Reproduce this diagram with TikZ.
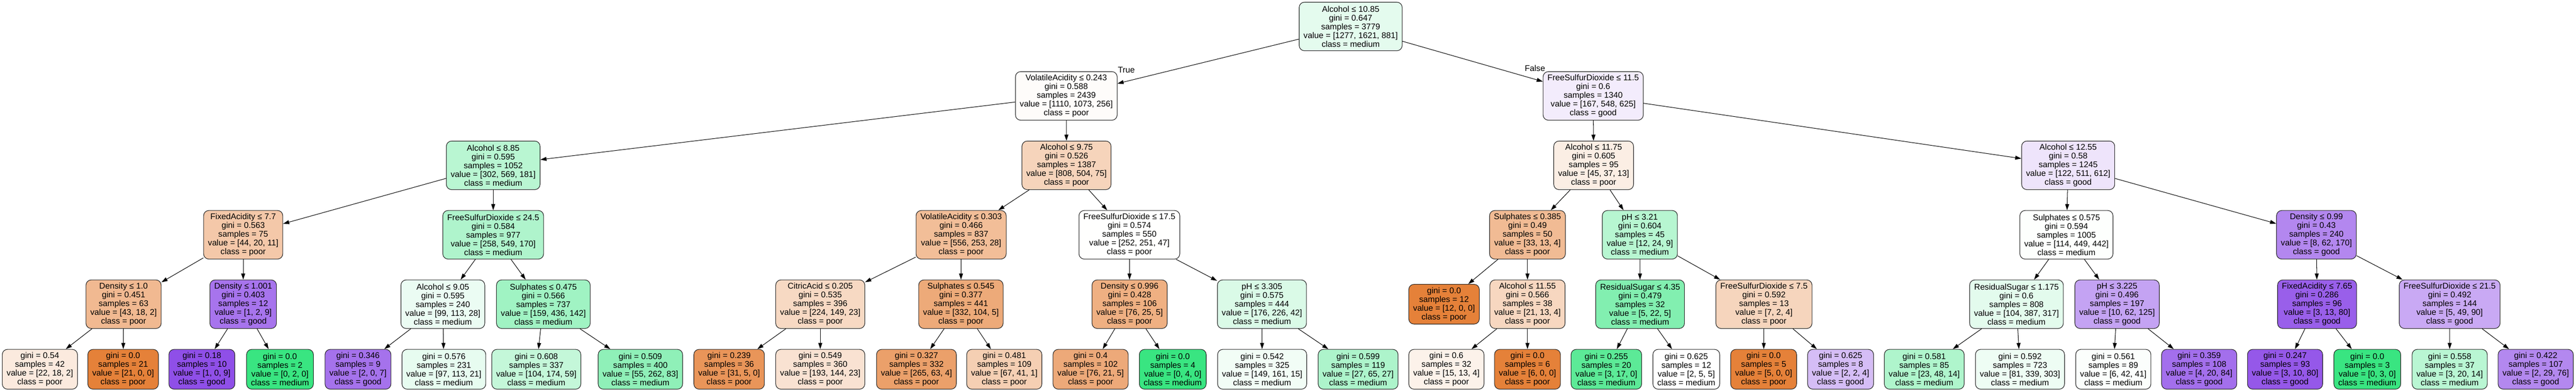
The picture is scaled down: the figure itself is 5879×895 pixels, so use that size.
\documentclass[tikz,border=0pt]{standalone}
\usepackage{fontspec}
\setmainfont{Liberation Sans}
\usetikzlibrary{arrows.meta}
\definecolor{poorc}{RGB}{229,129,57}
\definecolor{medc}{RGB}{57,229,129}
\definecolor{goodc}{RGB}{129,57,229}
\newcommand{\dtsplit}[5]{#1\\gini = #2\\samples = #3\\value = [#4]\\class = #5}
\newcommand{\dtleaf}[4]{gini = #1\\samples = #2\\value = [#3]\\class = #4}
\begin{document}
\begin{tikzpicture}[x=1pt,y=-1pt,
  base/.style={draw=black!85, line width=1.3pt, rounded corners=12pt, align=center,
    inner xsep=10pt, inner ysep=2pt, font=\fontsize{19}{20}\selectfont},
  inode/.style={base, minimum height=111pt},
  leaf/.style={base, minimum height=91pt},
  arr/.style={-{Triangle[length=14pt,width=9pt]}, line width=1.2pt},
  lbl/.style={font=\fontsize{19}{20}\selectfont, inner sep=0pt}]
\useasboundingbox (0,0) rectangle (5879,895);
% level 0
\node[inode, fill=medc!13.7!white] (n0) at (3082.5,60.5) {\dtsplit{Alcohol ≤ 10.85}{0.647}{3779}{1277, 1621, 881}{medium}};
% level 1
\node[inode, fill=poorc!2.7!white] (n1) at (2433.5,219.2) {\dtsplit{VolatileAcidity ≤ 0.243}{0.588}{2439}{1110, 1073, 256}{poor}};
\node[inode, fill=goodc!9.7!white] (n16) at (3636,219.2) {\dtsplit{FreeSulfurDioxide ≤ 11.5}{0.6}{1340}{167, 548, 625}{good}};
% level 2
\node[inode, fill=medc!35.6!white] (n2) at (1125.6,377.9) {\dtsplit{Alcohol ≤ 8.85}{0.595}{1052}{302, 569, 181}{medium}};
\node[inode, fill=poorc!34.4!white] (n9) at (2434,377.9) {\dtsplit{Alcohol ≤ 9.75}{0.526}{1387}{808, 504, 75}{poor}};
\node[inode, fill=poorc!13.8!white] (n17) at (3637,377.9) {\dtsplit{Alcohol ≤ 11.75}{0.605}{95}{45, 37, 13}{poor}};
\node[inode, fill=goodc!13.8!white] (n23) at (4720,377.9) {\dtsplit{Alcohol ≤ 12.55}{0.58}{1245}{122, 511, 612}{good}};
% level 3
\node[inode, fill=poorc!43.6!white] (n3) at (555,536.6) {\dtsplit{FixedAcidity ≤ 7.7}{0.563}{75}{44, 20, 11}{poor}};
\node[inode, fill=medc!40.5!white] (n6) at (1125.6,536.6) {\dtsplit{FreeSulfurDioxide ≤ 24.5}{0.584}{977}{258, 549, 170}{medium}};
\node[inode, fill=poorc!51.9!white] (n10) at (2193.5,536.6) {\dtsplit{VolatileAcidity ≤ 0.303}{0.466}{837}{556, 253, 28}{poor}};
\node[inode, fill=poorc!0.3!white] (n13) at (2577.5,536.6) {\dtsplit{FreeSulfurDioxide ≤ 17.5}{0.574}{550}{252, 251, 47}{poor}};
\node[inode, fill=poorc!54.1!white] (n18) at (3486,536.6) {\dtsplit{Sulphates ≤ 0.385}{0.49}{50}{33, 13, 4}{poor}};
\node[inode, fill=medc!36.4!white] (n20) at (3742.5,536.6) {\dtsplit{pH ≤ 3.21}{0.604}{45}{12, 24, 9}{medium}};
\node[inode, fill=medc!1.2!white] (n24) at (4716,536.6) {\dtsplit{Sulphates ≤ 0.575}{0.594}{1005}{114, 449, 442}{medium}};
\node[inode, fill=goodc!60.7!white] (n27) at (5286.5,536.6) {\dtsplit{Density ≤ 0.99}{0.43}{240}{8, 62, 170}{good}};
% level 4
\node[inode, fill=poorc!55.6!white] (n4) at (282,695.3) {\dtsplit{Density ≤ 1.0}{0.451}{63}{43, 18, 2}{poor}};
\node[inode, fill=goodc!70!white] (n5) at (555,695.3) {\dtsplit{Density ≤ 1.001}{0.403}{12}{1, 2, 9}{good}};
\node[inode, fill=medc!9.9!white] (n7) at (1010.7,695.3) {\dtsplit{Alcohol ≤ 9.05}{0.595}{240}{99, 113, 28}{medium}};
\node[inode, fill=medc!47.9!white] (n8) at (1240,695.3) {\dtsplit{Sulphates ≤ 0.475}{0.566}{737}{159, 436, 142}{medium}};
\node[inode, fill=poorc!30.4!white] (n11) at (1872,695.3) {\dtsplit{CitricAcid ≤ 0.205}{0.535}{396}{224, 149, 23}{poor}};
\node[inode, fill=poorc!67.7!white] (n12) at (2193,695.3) {\dtsplit{Sulphates ≤ 0.545}{0.377}{441}{332, 104, 5}{poor}};
\node[inode, fill=poorc!63!white] (n14) at (2578,695.3) {\dtsplit{Density ≤ 0.996}{0.428}{106}{76, 25, 5}{poor}};
\node[inode, fill=medc!18.7!white] (n15) at (2880,695.3) {\dtsplit{pH ≤ 3.305}{0.575}{444}{176, 226, 42}{medium}};
\node[leaf, fill=poorc] (l18a) at (3295.6,695.3) {\dtleaf{0.0}{12}{12, 0, 0}{poor}};
\node[inode, fill=poorc!32!white] (n19) at (3486,695.3) {\dtsplit{Alcohol ≤ 11.55}{0.566}{38}{21, 13, 4}{poor}};
\node[inode, fill=medc!63!white] (n21) at (3743,695.3) {\dtsplit{ResidualSugar ≤ 4.35}{0.479}{32}{5, 22, 5}{medium}};
\node[inode, fill=poorc!33.3!white] (n22) at (4025.7,695.3) {\dtsplit{FreeSulfurDioxide ≤ 7.5}{0.592}{13}{7, 2, 4}{poor}};
\node[inode, fill=medc!14.3!white] (n25) at (4602,695.3) {\dtsplit{ResidualSugar ≤ 1.175}{0.6}{808}{104, 387, 317}{medium}};
\node[inode, fill=goodc!46.7!white] (n26) at (4831.6,695.3) {\dtsplit{pH ≤ 3.225}{0.496}{197}{10, 62, 125}{good}};
\node[inode, fill=goodc!80.7!white] (n28) at (5288,695.3) {\dtsplit{FixedAcidity ≤ 7.65}{0.286}{96}{3, 13, 80}{good}};
\node[inode, fill=goodc!43.2!white] (n29) at (5590.6,695.3) {\dtsplit{FreeSulfurDioxide ≤ 21.5}{0.492}{144}{5, 49, 90}{good}};
% level 5 leaves
\node[leaf, fill=poorc!16.7!white] (l4a) at (91,844) {\dtleaf{0.54}{42}{22, 18, 2}{poor}};
\node[leaf, fill=poorc] (l4b) at (281,844) {\dtleaf{0.0}{21}{21, 0, 0}{poor}};
\node[leaf, fill=goodc!88.9!white] (l5a) at (460.7,844) {\dtleaf{0.18}{10}{1, 0, 9}{good}};
\node[leaf, fill=medc] (l5b) at (639,844) {\dtleaf{0.0}{2}{0, 2, 0}{medium}};
\node[leaf, fill=goodc!71.4!white] (l7a) at (817,844) {\dtleaf{0.346}{9}{2, 0, 7}{good}};
\node[leaf, fill=medc!11.9!white] (l7b) at (1013,844) {\dtleaf{0.576}{231}{97, 113, 21}{medium}};
\node[leaf, fill=medc!30!white] (l8a) at (1224,844) {\dtleaf{0.608}{337}{104, 174, 59}{medium}};
\node[leaf, fill=medc!56.5!white] (l8b) at (1461.5,844) {\dtleaf{0.509}{400}{55, 262, 83}{medium}};
\node[leaf, fill=poorc!83.9!white] (l11a) at (1664,844) {\dtleaf{0.239}{36}{31, 5, 0}{poor}};
\node[leaf, fill=poorc!22.7!white] (l11b) at (1872,844) {\dtleaf{0.549}{360}{193, 144, 23}{poor}};
\node[leaf, fill=poorc!75.1!white] (l12a) at (2091.5,844) {\dtleaf{0.327}{332}{265, 63, 4}{poor}};
\node[leaf, fill=poorc!38.2!white] (l12b) at (2292,844) {\dtleaf{0.481}{109}{67, 41, 1}{poor}};
\node[leaf, fill=poorc!67.9!white] (l14a) at (2489,844) {\dtleaf{0.4}{102}{76, 21, 5}{poor}};
\node[leaf, fill=medc] (l14b) at (2676.5,844) {\dtleaf{0.0}{4}{0, 4, 0}{medium}};
\node[leaf, fill=medc!6.8!white] (l15a) at (2880.5,844) {\dtleaf{0.542}{325}{149, 161, 15}{medium}};
\node[leaf, fill=medc!41.3!white] (l15b) at (3099.5,844) {\dtleaf{0.599}{119}{27, 65, 27}{medium}};
\node[leaf, fill=poorc!10.5!white] (l19a) at (3301,844) {\dtleaf{0.6}{32}{15, 13, 4}{poor}};
\node[leaf, fill=poorc] (l19b) at (3486,844) {\dtleaf{0.0}{6}{6, 0, 0}{poor}};
\node[leaf, fill=medc!82.4!white] (l21a) at (3666,844) {\dtleaf{0.255}{20}{3, 17, 0}{medium}};
\node[leaf, fill=white] (l21b) at (3848.5,844) {\dtleaf{0.625}{12}{2, 5, 5}{medium}};
\node[leaf, fill=poorc] (l22a) at (4025,844) {\dtleaf{0.0}{5}{5, 0, 0}{poor}};
\node[leaf, fill=goodc!33.3!white] (l22b) at (4200.6,844) {\dtleaf{0.625}{8}{2, 2, 4}{good}};
\node[leaf, fill=medc!40.3!white] (l25a) at (4391.5,844) {\dtleaf{0.581}{85}{23, 48, 14}{medium}};
\node[leaf, fill=medc!8.6!white] (l25b) at (4610,844) {\dtleaf{0.592}{723}{81, 339, 303}{medium}};
\node[leaf, fill=medc!2.1!white] (l26a) at (4823,844) {\dtleaf{0.561}{89}{6, 42, 41}{medium}};
\node[leaf, fill=goodc!72.7!white] (l26b) at (5019,844) {\dtleaf{0.359}{108}{4, 20, 84}{good}};
\node[leaf, fill=goodc!84.3!white] (l28a) at (5215,844) {\dtleaf{0.247}{93}{3, 10, 80}{good}};
\node[leaf, fill=medc] (l28b) at (5402.6,844) {\dtleaf{0.0}{3}{0, 3, 0}{medium}};
\node[leaf, fill=medc!35.3!white] (l29a) at (5590.7,844) {\dtleaf{0.558}{37}{3, 20, 14}{medium}};
\node[leaf, fill=goodc!60.3!white] (l29b) at (5787,844) {\dtleaf{0.422}{107}{2, 29, 76}{good}};
% labels
\node[lbl] (tlab) at (2570.5,160.5) {True};
\node[lbl] (flab) at (3503,155.5) {False};
% edges
\draw[arr] (n0) -- (n1);
\draw[arr] (n0) -- (n16);
\draw[arr] (n1) -- (n2);
\draw[arr] (n1) -- (n9);
\draw[arr] (n16) -- (n17);
\draw[arr] (n16) -- (n23);
\draw[arr] (n2) -- (n3);
\draw[arr] (n2) -- (n6);
\draw[arr] (n9) -- (n10);
\draw[arr] (n9) -- (n13);
\draw[arr] (n17) -- (n18);
\draw[arr] (n17) -- (n20);
\draw[arr] (n23) -- (n24);
\draw[arr] (n23) -- (n27);
\draw[arr] (n3) -- (n4);
\draw[arr] (n3) -- (n5);
\draw[arr] (n6) -- (n7);
\draw[arr] (n6) -- (n8);
\draw[arr] (n10) -- (n11);
\draw[arr] (n10) -- (n12);
\draw[arr] (n13) -- (n14);
\draw[arr] (n13) -- (n15);
\draw[arr] (n18) -- (l18a);
\draw[arr] (n18) -- (n19);
\draw[arr] (n20) -- (n21);
\draw[arr] (n20) -- (n22);
\draw[arr] (n24) -- (n25);
\draw[arr] (n24) -- (n26);
\draw[arr] (n27) -- (n28);
\draw[arr] (n27) -- (n29);
\draw[arr] (n4) -- (l4a);
\draw[arr] (n4) -- (l4b);
\draw[arr] (n5) -- (l5a);
\draw[arr] (n5) -- (l5b);
\draw[arr] (n7) -- (l7a);
\draw[arr] (n7) -- (l7b);
\draw[arr] (n8) -- (l8a);
\draw[arr] (n8) -- (l8b);
\draw[arr] (n11) -- (l11a);
\draw[arr] (n11) -- (l11b);
\draw[arr] (n12) -- (l12a);
\draw[arr] (n12) -- (l12b);
\draw[arr] (n14) -- (l14a);
\draw[arr] (n14) -- (l14b);
\draw[arr] (n15) -- (l15a);
\draw[arr] (n15) -- (l15b);
\draw[arr] (n19) -- (l19a);
\draw[arr] (n19) -- (l19b);
\draw[arr] (n21) -- (l21a);
\draw[arr] (n21) -- (l21b);
\draw[arr] (n22) -- (l22a);
\draw[arr] (n22) -- (l22b);
\draw[arr] (n25) -- (l25a);
\draw[arr] (n25) -- (l25b);
\draw[arr] (n26) -- (l26a);
\draw[arr] (n26) -- (l26b);
\draw[arr] (n28) -- (l28a);
\draw[arr] (n28) -- (l28b);
\draw[arr] (n29) -- (l29a);
\draw[arr] (n29) -- (l29b);
\end{tikzpicture}
\end{document}
